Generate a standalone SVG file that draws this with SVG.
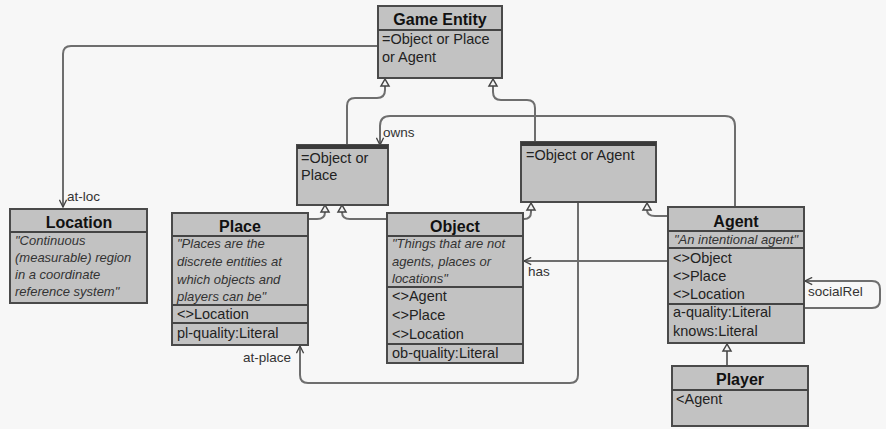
<svg xmlns="http://www.w3.org/2000/svg" width="886" height="429" viewBox="0 0 886 429">
<defs>
<style>
.box{fill:#c2c2c2;stroke:#4a4a4a;stroke-width:2}
.sep{stroke:#444;stroke-width:2}
.hdr{stroke:#3a3a3a;stroke-width:4}
.ttl{font-family:"Liberation Sans",Arial,sans-serif;font-size:16px;font-weight:bold;fill:#111;text-anchor:middle}
.txt{font-family:"Liberation Sans",Arial,sans-serif;font-size:14.5px;fill:#222}
.it{font-family:"Liberation Sans",Arial,sans-serif;font-size:13px;font-style:italic;fill:#333}
.lbl{font-family:"Liberation Sans",Arial,sans-serif;font-size:13.5px;fill:#333}
.con{fill:none;stroke:#6e6e6e;stroke-width:2}
.tri{fill:#f2f2f2;stroke:#444;stroke-width:1.5}
</style>
<marker id="arr" viewBox="0 0 10 10" refX="9" refY="5" markerWidth="9" markerHeight="9" markerUnits="userSpaceOnUse" orient="auto">
<path d="M1,1 L9,5 L1,9" fill="none" stroke="#444" stroke-width="1.5"/>
</marker>
</defs>
<rect width="886" height="429" fill="#f7f7f7"/>

<g id="connectors">
<path class="con" d="M377,46 H71 Q63,46 63,54 V207" marker-end="url(#arr)"/>
<path class="con" d="M347,145 V106 Q347,98 355,98 H377 Q385,98 385,90 V86"/>
<path class="con" d="M535,142 V108 Q535,100 527,100 H501 Q493,100 493,92 V86"/>
<path class="con" d="M325,212 Q325,219 317,219 H308"/>
<path class="con" d="M342,212 Q342,219 350,219 H387"/>
<path class="con" d="M531,210 V212 Q531,219 524,219"/>
<path class="con" d="M647,210 Q647,216 655,216 H668"/>
<path class="con" d="M578,202 V375 Q578,383 570,383 H308 Q300,383 300,375 V346" marker-end="url(#arr)"/>
<path class="con" d="M735,207 V126 Q735,116 725,116 H390 Q380,116 380,126 V145" marker-end="url(#arr)"/>
<path class="con" d="M668,261 H524" marker-end="url(#arr)"/>
<path class="con" d="M804,308 H872 Q880,308 880,300 V289 Q880,281 872,281 H805" marker-end="url(#arr)"/>
<path class="con" d="M727,351 V366"/>
<polygon class="tri" points="385,79 381,86 389,86"/>
<polygon class="tri" points="493,79 489,86 497,86"/>
<polygon class="tri" points="325,205 321,212 329,212"/>
<polygon class="tri" points="342,205 338,212 346,212"/>
<polygon class="tri" points="531,203 527,210 535,210"/>
<polygon class="tri" points="647,203 643,210 651,210"/>
<polygon class="tri" points="727,344 723,351 731,351"/>
<text class="lbl" x="67" y="201">at-loc</text>
<text class="lbl" x="383" y="137">owns</text>
<text class="lbl" x="528" y="276">has</text>
<text class="lbl" x="808" y="296">socialRel</text>
<text class="lbl" x="243" y="362">at-place</text>
</g>

<g id="game-entity">
<rect class="box" x="378" y="6" width="124" height="72"/>
<text class="ttl" x="440" y="25">Game Entity</text>
<line class="sep" x1="378" y1="30" x2="502" y2="30"/>
<text class="txt" x="382" y="44">=Object or Place</text>
<text class="txt" x="382" y="62">or Agent</text>
</g>

<g id="object-or-place">
<rect class="box" x="297" y="145" width="91" height="60"/>
<line class="hdr" x1="297" y1="147" x2="388" y2="147"/>
<text class="txt" x="301" y="163">=Object or</text>
<text class="txt" x="301" y="180">Place</text>
</g>

<g id="object-or-agent">
<rect class="box" x="521" y="142" width="135" height="60"/>
<line class="hdr" x1="521" y1="144" x2="656" y2="144"/>
<text class="txt" x="526" y="160">=Object or Agent</text>
</g>

<g id="location">
<rect class="box" x="10" y="209" width="137" height="94"/>
<text class="ttl" x="79" y="228">Location</text>
<line class="sep" x1="10" y1="232" x2="147" y2="232"/>
<text class="it" x="15" y="245">"Continuous</text>
<text class="it" x="15" y="262">(measurable) region</text>
<text class="it" x="15" y="279">in a coordinate</text>
<text class="it" x="15" y="296">reference system"</text>
</g>

<g id="place">
<rect class="box" x="172" y="213" width="136" height="132"/>
<text class="ttl" x="240" y="232">Place</text>
<line class="sep" x1="172" y1="236" x2="308" y2="236"/>
<text class="it" x="177" y="248">"Places are the</text>
<text class="it" x="177" y="266">discrete entities at</text>
<text class="it" x="177" y="284">which objects and</text>
<text class="it" x="177" y="301">players can be"</text>
<line class="sep" x1="172" y1="305" x2="308" y2="305"/>
<text class="txt" x="177" y="319">&lt;&gt;Location</text>
<line class="sep" x1="172" y1="323" x2="308" y2="323"/>
<text class="txt" x="177" y="338">pl-quality:Literal</text>
</g>

<g id="object">
<rect class="box" x="387" y="213" width="136" height="150"/>
<text class="ttl" x="455" y="232">Object</text>
<line class="sep" x1="387" y1="236" x2="523" y2="236"/>
<text class="it" x="392" y="248">"Things that are not</text>
<text class="it" x="392" y="266">agents, places or</text>
<text class="it" x="392" y="283">locations"</text>
<line class="sep" x1="387" y1="287" x2="523" y2="287"/>
<text class="txt" x="392" y="301">&lt;&gt;Agent</text>
<text class="txt" x="392" y="320">&lt;&gt;Place</text>
<text class="txt" x="392" y="339">&lt;&gt;Location</text>
<line class="sep" x1="387" y1="344" x2="523" y2="344"/>
<text class="txt" x="392" y="358">ob-quality:Literal</text>
</g>

<g id="agent">
<rect class="box" x="668" y="207" width="136" height="136"/>
<text class="ttl" x="736" y="227">Agent</text>
<line class="sep" x1="668" y1="231" x2="804" y2="231"/>
<text class="it" x="736" y="244" text-anchor="middle">"An intentional agent"</text>
<line class="sep" x1="668" y1="248" x2="804" y2="248"/>
<text class="txt" x="673" y="263">&lt;&gt;Object</text>
<text class="txt" x="673" y="281">&lt;&gt;Place</text>
<text class="txt" x="673" y="299">&lt;&gt;Location</text>
<line class="sep" x1="668" y1="304" x2="804" y2="304"/>
<text class="txt" x="673" y="317">a-quality:Literal</text>
<text class="txt" x="673" y="336">knows:Literal</text>
</g>

<g id="player">
<rect class="box" x="672" y="366" width="136" height="60"/>
<text class="ttl" x="740" y="385">Player</text>
<line class="sep" x1="672" y1="390" x2="808" y2="390"/>
<text class="txt" x="676" y="404">&lt;Agent</text>
</g>
</svg>
